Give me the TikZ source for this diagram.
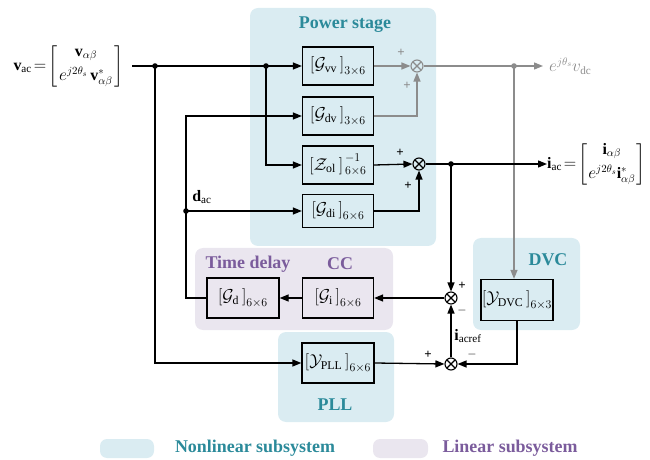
\documentclass[tikz,border=0pt]{standalone}
\usepackage{amsmath}
\usepackage{fontspec}
\setmainfont{Liberation Serif}
\usetikzlibrary{arrows.meta,positioning}
\definecolor{Teal}{HTML}{2B8A9A}
\definecolor{NonlinBg}{HTML}{DAECF2}
\definecolor{LinBg}{HTML}{EAE6EF}
\definecolor{Plum}{HTML}{7B5C9C}
\definecolor{Ash}{HTML}{8C8C8C}
\tikzset{
  wire/.style={line width=1.3bp,-{Triangle[length=9bp,width=7bp]}},
  ashwire/.style={wire,draw=Ash},
  blk/.style={draw,line width=1.3bp,minimum width=71bp,minimum height=38bp,
    inner sep=0bp,font=\fontsize{17}{17}\selectfont},
  sumnode/.style={circle,draw,line width=1.1bp,minimum size=12bp,inner sep=0bp,
    path picture={\draw[line width=1.1bp]
      (path picture bounding box.north west)--(path picture bounding box.south east)
      (path picture bounding box.north east)--(path picture bounding box.south west);}},
  sign/.style={font=\fontsize{13}{13}\selectfont\bfseries,inner sep=0bp},
  tealtitle/.style={text=Teal,font=\fontsize{18}{18}\selectfont\bfseries,inner sep=0bp},
  plumtitle/.style={text=Plum,font=\fontsize{18}{18}\selectfont\bfseries,inner sep=0bp},
  eqlabel/.style={font=\fontsize{16}{16}\selectfont,inner sep=0bp}
}

\begin{document}
\begin{tikzpicture}[x=1bp,y=-1bp]
  \path[use as bounding box] (0,0) rectangle (650,460);

  % subsystem backgrounds
  \fill[NonlinBg,rounded corners=8bp] (250,8) rectangle (436,246);
  \fill[LinBg,rounded corners=8bp] (195,248) rectangle (393,330);
  \fill[NonlinBg,rounded corners=8bp] (473,238) rectangle (580,330);
  \fill[NonlinBg,rounded corners=8bp] (278,332) rectangle (394,422);
  \node[tealtitle] (tPower) at (345,25) {Power stage};
  \node[plumtitle] (tDelay) at (248,264) {Time delay};
  \node[plumtitle] (tCC) at (340,264) {CC};
  \node[tealtitle] (tDVC) at (548,260) {DVC};
  \node[tealtitle] (tPLL) at (335,405) {PLL};

  % blocks
  \node[blk] (Gvv) at (338,66) {$\left[\mathcal{G}_{\mathrm{vv}}\,\right]_{3\times6}$};
  \node[blk] (Gdv) at (338,116) {$\left[\mathcal{G}_{\mathrm{dv}}\,\right]_{3\times6}$};
  \node[blk] (Zol) at (338,165) {$\left[\mathcal{Z}_{\mathrm{ol}}\,\right]^{\,-1}_{\,6\times6}$};
  \node[blk,minimum height=33bp] (Gdi) at (338,211) {$\left[\mathcal{G}_{\mathrm{di}}\,\right]_{6\times6}$};
  \node[blk,minimum width=72bp,minimum height=40bp] (Gd) at (243,298) {$\left[\mathcal{G}_{\mathrm{d}}\,\right]_{6\times6}$};
  \node[blk,minimum height=40bp] (Gi) at (338,298) {$\left[\mathcal{G}_{\mathrm{i}}\,\right]_{6\times6}$};
  \node[blk,minimum width=72bp,minimum height=41bp] (DVC) at (517,300) {$\left[\mathcal{Y}_{\mathrm{DVC}}\,\right]_{6\times3}$};
  \node[blk,minimum width=72bp,minimum height=40bp] (PLL) at (338,363) {$\left[\mathcal{Y}_{\mathrm{PLL}}\,\right]_{6\times6}$};

  % summing junctions
  \node[sumnode,draw=Ash,path picture={\draw[Ash,line width=1.1bp]
      (path picture bounding box.north west)--(path picture bounding box.south east)
      (path picture bounding box.north east)--(path picture bounding box.south west);}]
    (S1) at (417,66) {};
  \node[sumnode] (S2) at (419,164) {};
  \node[sumnode] (S3) at (451,298) {};
  \node[sumnode] (S4) at (451,364) {};
  \node[sign,text=Ash] at ([shift={(-16,-13)}]S1) {+};
  \node[sign,text=Ash] at ([shift={(-10,20)}]S1) {+};
  \node[sign] at ([shift={(-19,-11)}]S2) {+};
  \node[sign] at ([shift={(-11,22)}]S2) {+};
  \node[sign] at ([shift={(11,-12)}]S3) {+};
  \node[sign] at ([shift={(11,13)}]S3) {$-$};
  \node[sign] at ([shift={(-23,-9)}]S4) {+};
  \node[sign] at ([shift={(21,-9)}]S4) {$-$};

  % terminal labels
  \node[eqlabel,anchor=east] (vac) at (124,66)
    {$\arraycolsep=2bp\mathbf{v}_{\mathrm{ac}}\!=\!\left[\begin{array}{c}\mathbf{v}_{\alpha\beta}\\[6bp] e^{j2\theta_s}\,\mathbf{v}^{*}_{\alpha\beta}\end{array}\right]$};
  \node[eqlabel,anchor=west,text=Ash] (vdc) at (549,66) {$e^{j\theta_s}v_{\mathrm{dc}}$};
  \node[eqlabel,anchor=west] (iac) at (547,164)
    {$\arraycolsep=1bp\mathbf{i}_{\mathrm{ac}}\!=\!\left[\begin{array}{c}\mathbf{i}_{\alpha\beta}\\[6bp] e^{j2\theta_s}\mathbf{i}^{*}_{\alpha\beta}\end{array}\right]$};
  \node[eqlabel] (dac) at (202,197) {$\mathbf{d}_{\mathrm{ac}}$};
  \node[eqlabel] (iref) at (468,336) {$\mathbf{i}_{\mathrm{acref}}$};

  % branch points
  \coordinate (j1) at (155,66);
  \coordinate (j2) at (266,66);
  \coordinate (jd) at (186,211);
  \coordinate (jv) at (514,66);
  \coordinate (ji) at (451,164);
  \coordinate (jin) at (132,66);
  \coordinate (jout) at (543,66);

  % power stage
  \draw[wire] (jin) -- (Gvv.west);
  \draw[wire] (j1) |- (PLL.west);
  \draw[wire] (j2) |- (Zol.west);
  \draw[wire] (Gd.west) -| (jd) |- (Gdv.west);
  \draw[wire] (jd) -- (Gdi.west);
  \draw[ashwire] (Gvv.east) -- (S1.west);
  \draw[ashwire] (Gdv.east) -| (S1.south);
  \draw[ashwire] (S1.east) -- (jout);
  \draw[ashwire] (jv) -- (jv |- DVC.north);
  \draw[wire] (Zol.east) -- (S2.west);
  \draw[wire] (Gdi.east) -| (S2.south);
  \draw[wire] (S2.east) -- (iac.west);

  % control loops
  \draw[wire] (ji) -- (S3.north);
  \draw[wire] (S3.west) -- (Gi.east);
  \draw[wire] (Gi.west) -- (Gd.east);
  \draw[wire] (S4.north) -- (S3.south);
  \draw[wire] (PLL.east) -- (S4.west);
  \draw[wire] (DVC.south) |- (S4.east);

  \foreach \j in {j1,j2,jd,ji} \fill (\j) circle (2.8bp);
  \fill[Ash] (jv) circle (2.8bp);

  % legend
  \fill[NonlinBg,rounded corners=7bp] (100,439) rectangle (154,458);
  \node[tealtitle] (lNonlin) at (255,448) {Nonlinear subsystem};
  \fill[LinBg,rounded corners=7bp] (373,439) rectangle (428,458);
  \node[plumtitle] (lLin) at (510,448) {Linear subsystem};
\end{tikzpicture}
\end{document}
